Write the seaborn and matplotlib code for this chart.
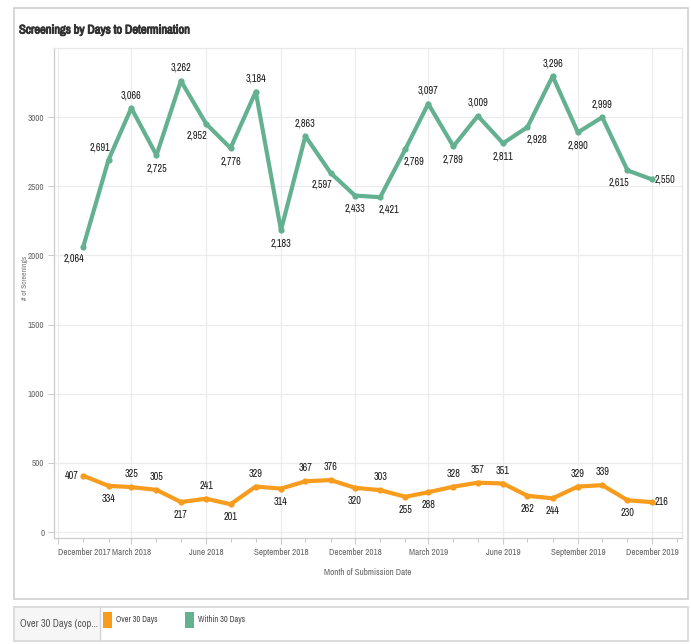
import pandas as pd
import numpy as np
import matplotlib
matplotlib.use("Agg")
import matplotlib.pyplot as plt
import matplotlib.dates as mdates
import matplotlib.patheffects as pe
from matplotlib import font_manager
from matplotlib.patches import Rectangle
import seaborn as sns

## data
months = pd.date_range("2018-01-01", periods=24, freq="MS")
within_30 = [2064, 2691, 3066, 2725, 3262, 2952, 2776, 3184, 2183, 2863, 2597, 2433,
             2421, 2769, 3097, 2789, 3009, 2811, 2928, 3296, 2890, 2999, 2615, 2550]
over_30 = [407, 334, 325, 305, 217, 241, 201, 329, 314, 367, 376, 320,
           303, 255, 288, 328, 357, 351, 262, 244, 329, 339, 230, 216]
series_names = ["Over 30 Days", "Within 30 Days"]

# where tableau put each mark label
within_pos = ['bl', 'al', 'a', 'b', 'a', 'bl', 'b', 'a', 'b', 'a', 'bl', 'b',
              'br', 'br', 'a', 'b', 'a', 'b', 'br', 'a', 'b', 'a', 'bl', 'r']
over_pos = ['l', 'b', 'a', 'a', 'b', 'a', 'b', 'a', 'b', 'a', 'a', 'b',
            'a', 'b', 'b', 'a', 'a', 'a', 'b', 'b', 'a', 'a', 'b', 'r']

colors = {"Over 30 Days": "#f89c1e", "Within 30 Days": "#63b190"}

df = pd.concat([
    pd.DataFrame({"month": months, "count": over_30, "series": series_names[0]}),
    pd.DataFrame({"month": months, "count": within_30, "series": series_names[1]}),
])

sns.set_theme(style="white")

# look for a narrow font, tableau's text is condensed
narrow = None
for f in font_manager.fontManager.ttflist:
    if ("Narrow" in f.name or "Condensed" in f.name) and f.style == "normal":
        narrow = f.name
        break
if narrow is None:
    for f in font_manager.fontManager.ttflist:
        if f.stretch in ("condensed", "semi-condensed") and f.style == "normal":
            narrow = f.name
            plt.rcParams['font.stretch'] = f.stretch
            break
plt.rcParams['font.family'] = [narrow, 'DejaVu Sans'] if narrow else ['DejaVu Sans']

W, H = 691, 644
fig = plt.figure(figsize=(W / 100, H / 100), dpi=100)

# background frame in pixel coords
bg = fig.add_axes([0, 0, 1, 1], zorder=-1)
bg.set_xlim(0, W)
bg.set_ylim(H, 0)
bg.axis("off")
bg.add_patch(Rectangle((14, 8), 674, 591, fill=False, ec="#cfcfcf", lw=1.2))
bg.add_patch(Rectangle((14, 607), 674, 34, fc="white", ec="#d5d5d5", lw=1.2))
bg.add_patch(Rectangle((15, 608), 85, 32, fc="#f6f6f6", ec="none"))
bg.plot([100, 100], [607, 641], color="#d5d5d5", lw=1)
bg.text(19, 30, "Screenings by Days to Determination", fontsize=9, fontweight="bold",
        color="#333333", va="center",
        path_effects=[pe.withStroke(linewidth=0.7, foreground="#333333")])
bg.text(20, 624, "Over 30 Days (cop...", fontsize=7.5, color="#555555", va="center")
bg.add_patch(Rectangle((103, 612), 9, 16, fc=colors["Over 30 Days"], ec="none"))
bg.text(116, 619, "Over 30 Days", fontsize=6, color="#444444", va="center")
bg.add_patch(Rectangle((185, 612), 9, 16, fc=colors["Within 30 Days"], ec="none"))
bg.text(198, 619, "Within 30 Days", fontsize=6, color="#444444", va="center")

# main plot area
left, right, top, bottom = 54, 682, 48, 538
ax = fig.add_axes([left / W, 1 - bottom / H, (right - left) / W, (bottom - top) / H])

sns.lineplot(data=df, x="month", y="count", hue="series", palette=colors,
             marker="o", markersize=4.5, markeredgewidth=0, linewidth=3,
             legend=False, ax=ax)

ax.set_xlim(pd.Timestamp("2017-11-26"), pd.Timestamp("2020-01-07"))
ax.set_ylim(-43, 3500)
ax.set_yticks(np.arange(0, 3001, 500))
ax.yaxis.set_major_formatter(plt.FuncFormatter(lambda v, p: f"{int(v)}"))
ax.xaxis.set_major_locator(mdates.MonthLocator(bymonth=[3, 6, 9, 12]))
ax.xaxis.set_minor_locator(mdates.MonthLocator())
ax.xaxis.set_major_formatter(mdates.DateFormatter("%B %Y"))

ax.grid(True, which="major", color="#ececec", lw=0.9)
ax.tick_params(axis="both", which="major", labelsize=6.5, labelcolor="#666666",
               color="#cccccc", length=4, width=0.8, bottom=True, left=True, pad=3)
ax.tick_params(axis="x", which="minor", color="#cccccc", length=3, width=0.8, bottom=True)
fig.canvas.draw()
for lab in ax.get_xticklabels():
    if lab.get_text() == "December 2017":
        lab.set_ha("left")
ax.set_xlabel("Month of Submission Date", fontsize=6.5, color="#666666", labelpad=8)
ax.set_ylabel("# of Screenings", fontsize=5.5, color="#777777")
ax.yaxis.set_label_coords((28 - left) / (right - left), 0.53)

for side in ["top", "right"]:
    ax.spines[side].set_color("#e8e8e8")
for side in ["left", "bottom"]:
    ax.spines[side].set_color("#cccccc")
for s in ax.spines.values():
    s.set_linewidth(0.9)

offsets = {'a': (0, 13), 'b': (0, -13), 'al': (-9, 12), 'bl': (-9, -12),
           'br': (9, -12), 'l': (-5, 0), 'r': (3, 0)}
ha_map = {'l': 'right', 'r': 'left'}
for vals, pos in [(within_30, within_pos), (over_30, over_pos)]:
    for m, v, p in zip(months, vals, pos):
        ax.annotate(f"{v:,}", (m, v), xytext=offsets[p], textcoords="offset pixels",
                    ha=ha_map.get(p, "center"), va="center", fontsize=7.3,
                    color="#1a1a1a")

fig.savefig("out.png", dpi=100, facecolor="white")
